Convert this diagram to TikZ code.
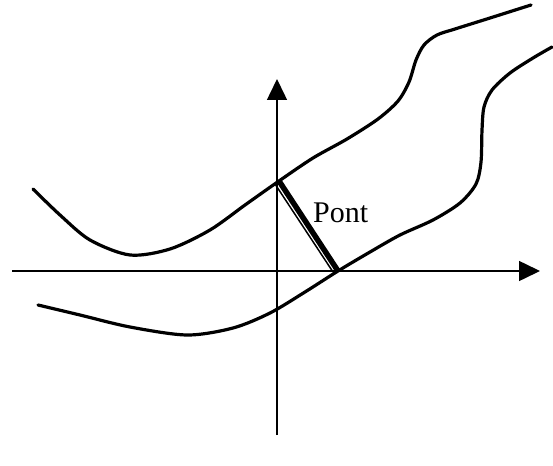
\documentclass[tikz,border=0pt]{standalone}
\usepackage{fontspec}
\setmainfont{Liberation Serif}
\usetikzlibrary{arrows.meta}
\begin{document}
\begin{tikzpicture}[x=1pt,y=-1pt,
  axis/.style={line width=1.5pt,-{Triangle[length=21pt,width=20pt]}},
  bank/.style={line width=3.2pt,line cap=round},
  deck/.style={line width=5.5pt},
  rail/.style={line width=1.5pt},
  lbl/.style={font=\fontsize{30}{36}\selectfont,inner sep=0pt,anchor=base west}]
\useasboundingbox (0,0) rectangle (553,465);
% axes
\coordinate (xs) at (12,271);
\coordinate (xe) at (540,271);
\coordinate (ys) at (277,435);
\coordinate (ye) at (277,79);
\draw[axis] (xs) -- (xe);
\draw[axis] (ys) -- (ye);
% river banks
\draw[bank] plot[smooth,tension=0.5] coordinates {
 (33,189) (60,215) (90,240) (130,255) (170,249) (210,230) (245,205) (279,181)
 (313,158) (347,139) (378,119) (398,101) (409,82) (416,60) (424,45) (437,35)
 (455,29) (490,18) (531,5)};
\draw[bank] plot[smooth,tension=0.5] coordinates {
 (38,305) (80,315) (130,327) (187,335) (233,328) (270,313) (305,292)
 (338,271) (370,252) (400,235) (433,220) (460,203) (476,184) (481,162)
 (482,130) (484,107) (492,90) (510,73) (533,58) (552,47)};
% bridge
\coordinate (bt) at (279,181);
\coordinate (bb) at (338,271);
\coordinate (rt) at (275,184);
\coordinate (rb) at (333,272);
\draw[deck] (bt) -- (bb);
\draw[rail] (rt) -- (rb);
\node[lbl] (pont) at (313,222) {Pont};
\end{tikzpicture}
\end{document}
